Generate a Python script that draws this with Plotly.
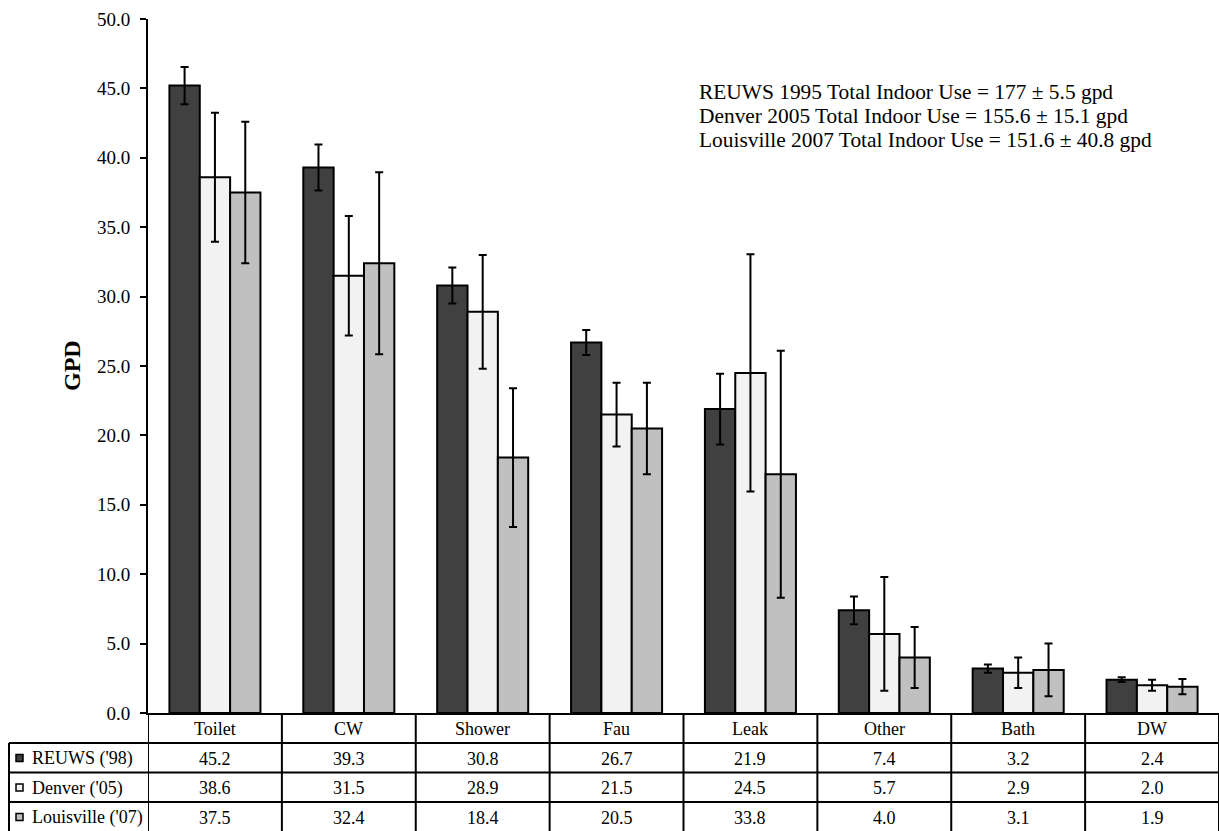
import plotly.graph_objects as go

# Indoor end uses (gallons per household per day)
categories = ["Toilet", "CW", "Shower", "Fau", "Leak", "Other", "Bath", "DW"]
series_names = ["REUWS ('98)", "Denver ('05)", "Louisville ('07)"]

reuws = [45.2, 39.3, 30.8, 26.7, 21.9, 7.4, 3.2, 2.4]
denver = [38.6, 31.5, 28.9, 21.5, 24.5, 5.7, 2.9, 2.0]
louisville = [37.5, 32.4, 18.4, 20.5, 17.2, 4.0, 3.1, 1.9]

# Printed values in the data table rows
reuws_table = [45.2, 39.3, 30.8, 26.7, 21.9, 7.4, 3.2, 2.4]
denver_table = [38.6, 31.5, 28.9, 21.5, 24.5, 5.7, 2.9, 2.0]
louisville_table = [37.5, 32.4, 18.4, 20.5, 33.8, 4.0, 3.1, 1.9]

# Error bar half-widths
reuws_err = [1.35, 1.65, 1.3, 0.9, 2.55, 1.0, 0.3, 0.17]
denver_err = [4.65, 4.3, 4.1, 2.3, 8.55, 4.1, 1.1, 0.4]
louisville_err = [5.1, 6.55, 5.0, 3.3, 8.9, 2.2, 1.9, 0.55]

totals_text = [
    "REUWS 1995 Total Indoor Use = 177 ± 5.5 gpd",
    "Denver 2005 Total Indoor Use = 155.6 ± 15.1 gpd",
    "Louisville 2007 Total Indoor Use = 151.6 ± 40.8 gpd",
]

y_ticks = [0, 5, 10, 15, 20, 25, 30, 35, 40, 45, 50]

colors = ["#404040", "#f2f2f2", "#c0c0c0"]
FONT = "Liberation Serif"

W, H = 1219, 831
L, R, T, B = 148, 0, 19, 118
PW, PH = W - L - R, H - T - B


def px(xp):
    return (xp - L) / PW


def py(yp):
    return (H - B - yp) / PH


fig = go.Figure()
x_idx = list(range(len(categories)))
for name, vals, errs, col in zip(series_names, [reuws, denver, louisville],
                                 [reuws_err, denver_err, louisville_err], colors):
    fig.add_trace(go.Bar(
        x=x_idx, y=vals, name=name,
        marker=dict(color=col, line=dict(color="black", width=2)),
        error_y=dict(type="data", array=errs, visible=True,
                     color="black", thickness=2, width=4),
        hoverinfo="skip",
    ))

shapes = []
annotations = []


def label(x, y, text, size, xref="paper", xanchor="center", **kw):
    annotations.append(dict(x=x, y=y, xref=xref, yref="paper", text=text,
                            showarrow=False, xanchor=xanchor, yanchor="middle",
                            font=dict(family=FONT, size=size, color="black"), **kw))


# Data table grid below the plot
row_lines = [743, 772.5, 802]
for yl in row_lines:
    shapes.append(dict(type="line", xref="paper", yref="paper",
                       x0=px(9), x1=1.0, y0=py(yl), y1=py(yl),
                       line=dict(color="black", width=2)))
for i in range(len(categories) + 1):
    xb = i - 0.5
    shapes.append(dict(type="line", xref="x", yref="paper",
                       x0=xb, x1=xb, y0=py(713), y1=py(835),
                       line=dict(color="black", width=2)))
shapes.append(dict(type="line", xref="paper", yref="paper",
                   x0=px(9), x1=px(9), y0=py(743), y1=py(835),
                   line=dict(color="black", width=2)))

# Header row: category names
for i, c in enumerate(categories):
    label(i, py(729), c, 18, xref="x")

# Data rows with legend keys
row_centers = [758.5, 788, 817.5]
for name, vals, col, yc in zip(series_names,
                                [reuws_table, denver_table, louisville_table],
                                colors, row_centers):
    shapes.append(dict(type="rect", xref="paper", yref="paper",
                       x0=px(16), x1=px(23), y0=py(yc - 4), y1=py(yc + 3),
                       fillcolor=col, line=dict(color="black", width=1.5)))
    label(px(30), py(yc), name, 18, xanchor="left")
    for i, v in enumerate(vals):
        label(i, py(yc), f"{v:.1f}", 18, xref="x")

# Totals text block
for k, t in enumerate(totals_text):
    label(px(697), py(92 + 24 * k), t, 21.4, xanchor="left")

# Y axis title
label(px(72), py(366), "<b>GPD</b>", 24, textangle=-90)

fig.update_layout(
    width=W, height=H,
    margin=dict(l=L, r=R, t=T, b=B),
    paper_bgcolor="white", plot_bgcolor="white",
    barmode="group", bargap=0.32, bargroupgap=0,
    showlegend=False,
    shapes=shapes, annotations=annotations,
    font=dict(family=FONT, color="black"),
    xaxis=dict(range=[-0.5, len(categories) - 0.5], showticklabels=False,
               showgrid=False, zeroline=False, showline=True,
               linecolor="black", linewidth=2, ticks=""),
    yaxis=dict(range=[0, 50], tickvals=y_ticks,
               ticktext=[f"{v:.1f}" for v in y_ticks],
               ticks="outside", ticklen=6, tickwidth=2, tickcolor="black",
               ticklabelstandoff=6,
               showgrid=False, zeroline=False, showline=True,
               linecolor="black", linewidth=2,
               tickfont=dict(family=FONT, size=19, color="black")),
)

fig.write_html("out.html")
